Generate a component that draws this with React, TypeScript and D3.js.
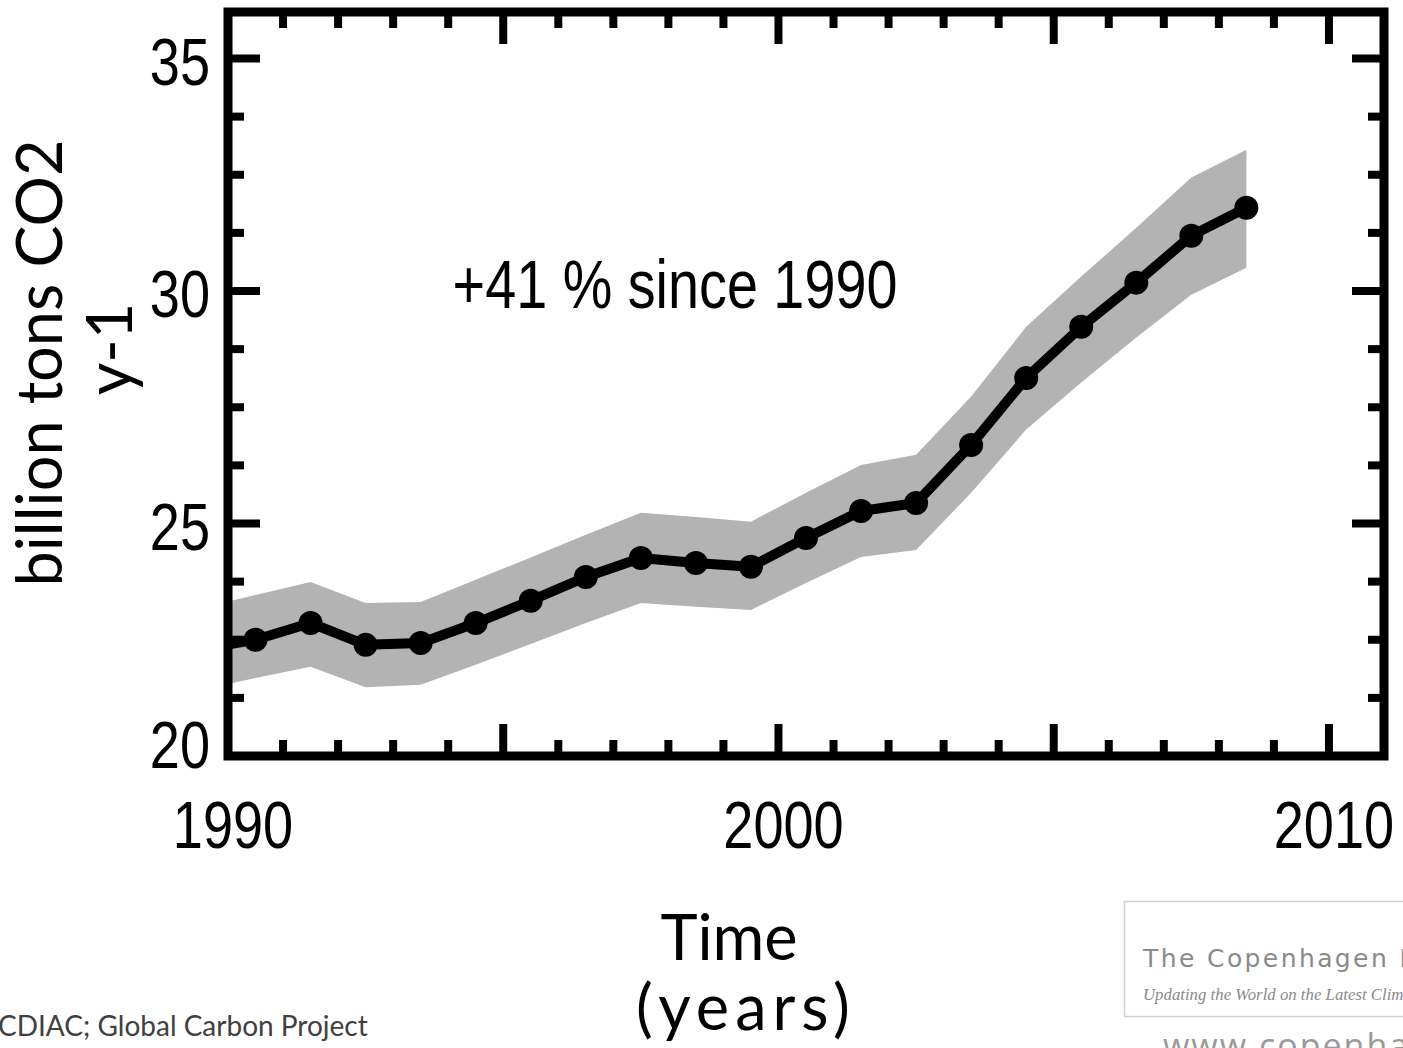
import React from "react";
import * as d3 from "d3";

// Annual global CO2 emissions (billion tons CO2 per year), plotted at mid-year
const years = [1989, 1990, 1991, 1992, 1993, 1994, 1995, 1996, 1997, 1998, 1999, 2000, 2001, 2002, 2003, 2004, 2005, 2006, 2007, 2008];
const emissions = [22.3, 22.5, 22.86, 22.39, 22.43, 22.86, 23.34, 23.85, 24.26, 24.15, 24.07, 24.69, 25.27, 25.44, 26.69, 28.13, 29.23, 30.18, 31.19, 31.79];
const upperBound = [23.19, 23.46, 23.74, 23.29, 23.31, 23.79, 24.27, 24.76, 25.23, 25.14, 25.04, 25.66, 26.26, 26.48, 27.73, 29.23, 30.31, 31.36, 32.44, 33.04];
const lowerBound = [21.42, 21.68, 21.92, 21.48, 21.53, 21.96, 22.41, 22.86, 23.29, 23.21, 23.14, 23.72, 24.28, 24.43, 25.66, 27.02, 28.03, 29.0, 29.92, 30.5];

const xDomain = [1990, 2011];
const yDomain = [20, 36];
const xTickLabels = [1990, 2000, 2010];
const xMajorTicks = [1990, 1995, 2000, 2005, 2010];
const yTickLabels = [20, 25, 30, 35];
const yMinorStep = 1.25;

const annotationText = "+41 % since 1990";
const yTitleLines = ["billion tons CO2", "y-1"];
const xTitleLines = ["Time", "(years)"];
const sourceText = "CDIAC; Global Carbon Project";
const logoTitle = "The Copenhagen Diagnosis";
const logoSubtitle = "Updating the World on the Latest Climate Science";
const logoUrl = "www.copenhagendiagnosis.com";

export default function App() {
  const W = 1403;
  const H = 1048;
  const L = 228, R = 1384, T = 12, B = 756;
  const x = d3.scaleLinear().domain(xDomain).range([L, R]);
  const y = d3.scaleLinear().domain(yDomain).range([B, T]);

  const data = years.map((yr, i) => ({
    t: yr + 0.5,
    v: emissions[i],
    hi: upperBound[i],
    lo: lowerBound[i],
  }));

  const area = d3
    .area<any>()
    .x((d) => x(d.t))
    .y0((d) => y(d.lo))
    .y1((d) => y(d.hi));
  const line = d3
    .line<any>()
    .x((d) => x(d.t))
    .y((d) => y(d.v));

  const xMinor = d3
    .range(xDomain[0] + 1, xDomain[1], 1)
    .filter((t) => !xMajorTicks.includes(t));
  const yMinor = d3
    .range(yDomain[0], yDomain[1] + 0.001, yMinorStep)
    .filter((t) => t % 5 !== 0 && t > yDomain[0] && t < yDomain[1]);
  const yMajor = yTickLabels;

  const tickW = 8;
  const majLen = 32;
  const minLen = 16;
  const narrow = 0.82;
  const tickFont = "'Liberation Sans', Arial, sans-serif";
  const titleFont = "Lato, 'Open Sans', sans-serif";

  const NarrowText = ({ px, py, anchor, size, children }: any) => (
    <g transform={`translate(${px},${py}) scale(${narrow},1)`}>
      <text x={0} y={0} textAnchor={anchor} fontFamily={tickFont} fontSize={size} fill="#000">
        {children}
      </text>
    </g>
  );

  return (
    <svg
      width={W}
      height={H}
      style={{ position: "absolute", left: 0, top: 0, background: "#fff" }}
    >
      <defs>
        <clipPath id="plotClip">
          <rect x={L} y={T} width={R - L} height={B - T} />
        </clipPath>
      </defs>
      <rect x={0} y={0} width={W} height={H} fill="#fff" />

      <g clipPath="url(#plotClip)">
        <path d={area(data) || ""} fill="#b3b3b3" />
        <path
          d={line(data) || ""}
          fill="none"
          stroke="#000"
          strokeWidth={10}
          strokeLinejoin="round"
        />
        {data.map((d, i) => (
          <circle key={i} cx={x(d.t)} cy={y(d.v)} r={12} fill="#000" />
        ))}
      </g>

      {/* ticks */}
      <g stroke="#000" strokeWidth={tickW}>
        {xMajorTicks.map((t) => (
          <g key={"xM" + t}>
            <line x1={x(t)} x2={x(t)} y1={B} y2={B - majLen} />
            <line x1={x(t)} x2={x(t)} y1={T} y2={T + majLen} />
          </g>
        ))}
        {xMinor.map((t) => (
          <g key={"xm" + t}>
            <line x1={x(t)} x2={x(t)} y1={B} y2={B - minLen} />
            <line x1={x(t)} x2={x(t)} y1={T} y2={T + minLen} />
          </g>
        ))}
        {yMajor.map((t) => (
          <g key={"yM" + t}>
            <line x1={L} x2={L + majLen} y1={y(t)} y2={y(t)} />
            <line x1={R} x2={R - majLen} y1={y(t)} y2={y(t)} />
          </g>
        ))}
        {yMinor.map((t) => (
          <g key={"ym" + t}>
            <line x1={L} x2={L + minLen} y1={y(t)} y2={y(t)} />
            <line x1={R} x2={R - minLen} y1={y(t)} y2={y(t)} />
          </g>
        ))}
      </g>

      {/* frame */}
      <rect
        x={L}
        y={T}
        width={R - L}
        height={B - T}
        fill="none"
        stroke="#000"
        strokeWidth={9}
      />

      {/* tick labels */}
      {xTickLabels.map((t) => (
        <NarrowText key={"xl" + t} px={x(t) + 5} py={848} anchor="middle" size={66}>
          {t}
        </NarrowText>
      ))}
      {yTickLabels.map((t) => (
        <NarrowText
          key={"yl" + t}
          px={210}
          py={Math.min(y(t) + 26, B + 12)}
          anchor="end"
          size={66}
        >
          {t}
        </NarrowText>
      ))}

      <NarrowText px={675} py={308} anchor="middle" size={68}>
        {annotationText}
      </NarrowText>

      {/* axis titles */}
      <g fontFamily={titleFont} fontSize={63} fill="#000">
        <text transform="translate(62,363) rotate(-90)" textAnchor="middle">
          {yTitleLines[0]}
        </text>
        <text transform="translate(132,349) rotate(-90)" textAnchor="middle">
          {yTitleLines[1]}
        </text>
        <text x={729} y={960} textAnchor="middle">
          {xTitleLines[0]}
        </text>
        <text x={746} y={1030} textAnchor="middle" letterSpacing={6}>
          {xTitleLines[1]}
        </text>
      </g>

      {/* source */}
      <text x={-2} y={1036} fontFamily={titleFont} fontSize={28} fill="#404040">
        {sourceText}
      </text>

      {/* logo */}
      <rect x={1124.5} y={901.5} width={300} height={115} fill="#fff" stroke="#cfcfcf" strokeWidth={1.5} />
      <text
        x={1143}
        y={967}
        fontFamily="'DejaVu Sans', sans-serif"
        fontSize={25}
        letterSpacing={2.4}
        fill="#8a8a8a"
      >
        {logoTitle}
      </text>
      <text
        x={1143}
        y={1000}
        fontFamily="'Liberation Serif', serif"
        fontStyle="italic"
        fontSize={16.8}
        fill="#8a8a8a"
      >
        {logoSubtitle}
      </text>
      <text
        x={1163}
        y={1058}
        fontFamily="'Open Sans', sans-serif"
        fontSize={34}
        letterSpacing={2}
        fill="#9a9a9a"
      >
        {logoUrl}
      </text>
    </svg>
  );
}
